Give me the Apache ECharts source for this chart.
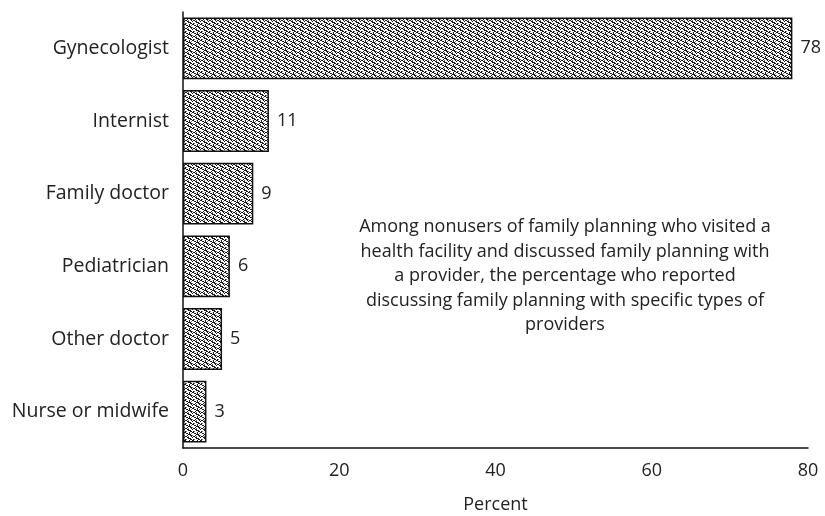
<!DOCTYPE html>
<html>
<head>
<meta charset="utf-8">
<script src="https://cdn.jsdelivr.net/npm/echarts@6/dist/echarts.min.js"></script>
<style>
html,body{margin:0;padding:0;background:#fff;}
#chart{width:825px;height:516px;}
</style>
</head>
<body>
<div id="chart"></div>
<script>
const categories = ["Gynecologist", "Internist", "Family doctor", "Pediatrician", "Other doctor", "Nurse or midwife"];
const values = [78, 11, 9, 6, 5, 3];
const xTicks = [0, 20, 40, 60, 80];
const noteText = "Among nonusers of family planning who visited a\nhealth facility and discussed family planning with\na provider, the percentage who reported\ndiscussing family planning with specific types of\nproviders";

function makePattern() {
  const rows = [
    "##...#..",
    "..##.#.+",
    "....###.",
    "+..#..##",
    ".##.+..#",
    "#..##...",
    "....###.",
    ".#+...##"
  ];
  const c = document.createElement('canvas');
  c.width = 8; c.height = 8;
  const g = c.getContext('2d');
  for (let y = 0; y < rows.length; y++) {
    for (let x = 0; x < rows[y].length; x++) {
      const ch = rows[y][x];
      g.fillStyle = ch === '#' ? '#181818' : (ch === '+' ? '#7a7a7a' : '#ffffff');
      g.fillRect(x, y, 1, 1);
    }
  }
  return c;
}

const font = '"Open Sans", "Noto Sans", sans-serif';
const chart = echarts.init(document.getElementById('chart'), null, {renderer: 'canvas'});
chart.setOption({
  animation: false,
  backgroundColor: '#ffffff',
  grid: {left: 183, right: 17, top: 12, bottom: 68, containLabel: false, outerBoundsMode: 'none'},
  xAxis: {
    type: 'value', min: 0, max: 80, interval: 20,
    axisLine: {show: true, lineStyle: {color: '#111', width: 1.5}},
    axisTick: {show: false},
    splitLine: {show: false},
    axisLabel: {color: '#222', fontSize: 18, fontFamily: font, margin: 14,
      formatter: v => xTicks.includes(v) ? String(v) : ''},
    name: 'Percent', nameLocation: 'middle', nameGap: 48,
    nameTextStyle: {color: '#222', fontSize: 18, fontFamily: font}
  },
  yAxis: {
    type: 'category', data: categories, inverse: true,
    axisLine: {show: true, lineStyle: {color: '#111', width: 1.5}},
    axisTick: {show: false},
    axisLabel: {color: '#222', fontSize: 19.5, fontFamily: font, margin: 14}
  },
  series: [{
    type: 'bar',
    data: values,
    barWidth: '85%',
    itemStyle: {
      color: {image: makePattern(), repeat: 'repeat'},
      borderColor: '#111', borderWidth: 1.5
    },
    label: {show: true, position: 'right', distance: 8, color: '#222',
      fontSize: 18, fontFamily: font}
  }],
  graphic: [{
    type: 'text', x: 565, y: 215,
    style: {
      text: noteText, align: 'center', verticalAlign: 'top',
      fill: '#222', fontSize: 18, fontFamily: font, lineHeight: 24.4
    }
  }]
});
</script>
</body>
</html>
